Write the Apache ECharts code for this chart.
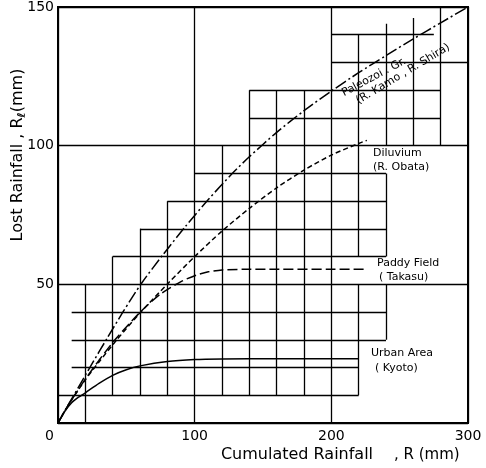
<!DOCTYPE html>
<html><head><meta charset="utf-8">
<script src="https://cdn.jsdelivr.net/npm/echarts@6/dist/echarts.min.js"></script>
<style>html,body{margin:0;padding:0;background:#fff}#c{width:486px;height:468px}</style>
</head><body><div id="c"></div>
<script>
// ---- data ----
const xTickLabels = ['0', '100', '200', '300'];
const yTickLabels = ['0', '50', '100', '150'];
const urbanArea = [[0,0],[5,4.2],[10,7.3],[15,9.3],[20,10.9],[30,14.3],[40,17.2],[50,19.2],[60,20.6],[80,22.2],[100,22.9],[120,23.1],[160,23.2],[220,23.2]];
const paddyField = [[0,0],[5,4.3],[10,8.4],[20,15.8],[30,22.6],[42,30.2],[61,40.4],[75,46.5],[90,51],[101,53.3],[110,54.5],[120,55.2],[135,55.4],[226,55.4]];
const diluvium = [[0,0],[5,4.4],[10,8.3],[20,15.6],[30,22],[43,30],[61,40.2],[81,50.6],[100,60],[120,69.2],[140,77.4],[160,84.8],[180,91.2],[200,96.6],[220,100.8],[226,101.9]];
const paleozoic = [[0,0],[5,4.4],[12,10.4],[24,20.6],[36,30.6],[48,40.4],[61,50.3],[77,60.8],[93,70.7],[110,80.6],[128,90.2],[140,96],[160,104.8],[180,112.6],[200,119.7],[220,126.3],[240,132.5],[260,138.5],[280,144.3],[300,150]];
// staircase grid: horizontal [y, x1, x2], vertical [x, y1, y2]
const hSegments = [[10,0,220],[20,10,220],[30,10,240],[40,10,240],[60,40,240],[70,60,240],[80,80,240],[90,100,240],[110,140,280],[120,140,280],[130,200,300],[140,200,275]];
const vSegments = [[20,0,50],[40,10,60],[60,10,70],[80,10,80],[120,10,100],[140,10,120],[160,10,120],[180,10,120],[220,10,50],[220,60,140],[240,30,50],[240,60,90],[240,100,144],[260,100,146],[280,100,150]];

const F = 'DejaVu Sans';
const chart = echarts.init(document.getElementById('c'), null, {renderer: 'canvas'});

const segData = hSegments.map(s => ({coords: [[s[1], s[0]], [s[2], s[0]]]}))
  .concat(vSegments.map(s => ({coords: [[s[0], s[1]], [s[0], s[2]]]})));

function curve(data, type) {
  return {
    type: 'line', data: data, showSymbol: false, symbol: 'none',
    smooth: 0.25, z: 5, silent: true,
    lineStyle: {color: '#000', width: 1.5, type: type}
  };
}

chart.setOption({
  animation: false,
  backgroundColor: '#fff',
  grid: {left: 58, right: 18, top: 7, bottom: 45, show: true, borderColor: '#000', borderWidth: 2},
  xAxis: {
    type: 'value', min: 0, max: 300, interval: 100,
    axisLine: {show: true, lineStyle: {color: '#000', width: 2}},
    axisTick: {show: false},
    splitLine: {show: true, lineStyle: {color: '#000', width: 1.3}},
    axisLabel: {color: '#000', fontFamily: F, fontSize: 14, margin: 6,
      formatter: (v) => { const i = Math.round(v / 100); return i === 0 ? '' : xTickLabels[i]; }}
  },
  yAxis: {
    type: 'value', min: 0, max: 150, interval: 50,
    axisLine: {show: true, lineStyle: {color: '#000', width: 2}},
    axisTick: {show: false},
    splitLine: {show: true, lineStyle: {color: '#000', width: 1.3}},
    axisLabel: {color: '#000', fontFamily: F, fontSize: 14, margin: 4,
      formatter: (v) => { const i = Math.round(v / 50); return i === 0 ? '' : yTickLabels[i]; }}
  },
  series: [
    {type: 'lines', coordinateSystem: 'cartesian2d', data: segData, silent: true, z: 3,
     lineStyle: {color: '#000', width: 1.3, opacity: 1}},
    curve(urbanArea, 'solid'),
    curve(paddyField, [10, 4]),
    curve(diluvium, [5, 3]),
    curve(paleozoic, [12, 3, 2, 3])
  ],
  graphic: [
    {type: 'text', left: 45, top: 429, style: {text: xTickLabels[0], font: '14px ' + F, fill: '#000'}},
    {type: 'text', x: 297, y: 455, style: {text: 'Cumulated Rainfall', font: '16px ' + F, fill: '#000', textAlign: 'center', textVerticalAlign: 'middle'}},
    {type: 'text', x: 394, y: 455, style: {text: ', R (mm)', font: '15px ' + F, fill: '#000', textAlign: 'left', textVerticalAlign: 'middle'}},
    {type: 'text', x: 18, y: 155, rotation: Math.PI / 2,
     style: {text: '{a|Lost Rainfall , R}{s|ℓ}{a|(mm)}', textAlign: 'center', textVerticalAlign: 'middle', fill: '#000',
       rich: {a: {fontFamily: F, fontSize: 16, fill: '#000'}, s: {fontFamily: F, fontSize: 11, fontWeight: 'bold', fill: '#000', padding: [8, 0, 0, 0]}}}},
    {type: 'text', x: 374, y: 77, rotation: 28 * Math.PI / 180,
     style: {text: 'Paleozoi . Gr.', font: '11px ' + F, fill: '#000', textAlign: 'center', textVerticalAlign: 'middle'}},
    {type: 'text', x: 403, y: 74, rotation: 31 * Math.PI / 180,
     style: {text: '(R. Kamo , R. Shira)', font: '11px ' + F, fill: '#000', textAlign: 'center', textVerticalAlign: 'middle'}},
    {type: 'text', x: 373, y: 153, style: {text: 'Diluvium', font: '11px ' + F, fill: '#000', textVerticalAlign: 'middle'}},
    {type: 'text', x: 373, y: 167.5, style: {text: '(R. Obata)', font: '11px ' + F, fill: '#000', textVerticalAlign: 'middle'}},
    {type: 'text', x: 377, y: 263.5, style: {text: 'Paddy Field', font: '11px ' + F, fill: '#000', textVerticalAlign: 'middle'}},
    {type: 'text', x: 379, y: 277.5, style: {text: '( Takasu)', font: '11px ' + F, fill: '#000', textVerticalAlign: 'middle'}},
    {type: 'text', x: 371, y: 353, style: {text: 'Urban Area', font: '11px ' + F, fill: '#000', textVerticalAlign: 'middle'}},
    {type: 'text', x: 375, y: 368, style: {text: '( Kyoto)', font: '11px ' + F, fill: '#000', textVerticalAlign: 'middle'}}
  ]
});
</script></body></html>
